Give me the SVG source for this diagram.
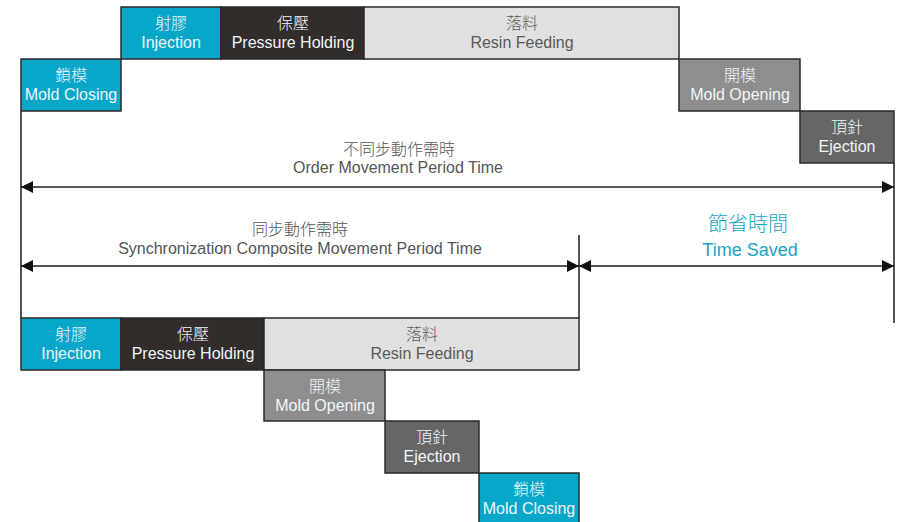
<svg xmlns="http://www.w3.org/2000/svg" width="898" height="522" viewBox="0 0 898 522">
<defs>
<style>
.box{stroke:#2a2a2a;stroke-width:1.5}
.cyan{fill:#08a6c9}
.dark{fill:#322c2a}
.light{fill:#e0e0e0}
.mid{fill:#8e8e8e}
.deep{fill:#666666}
text{font-family:"Liberation Sans","Noto Sans CJK TC",sans-serif;text-anchor:middle}
.zh{font-family:"Noto Sans CJK TC","Liberation Sans",sans-serif;font-size:16px;font-weight:300}
.en{font-size:16px}
.w{fill:#eef6f8}
.g{fill:#5a5a5a}
.lbl{fill:#555555}
.teal{fill:#1aa5c6}
.dim{stroke:#1e1e1e;stroke-width:1.5;fill:none}
.ext{stroke:#555555;stroke-width:2;fill:none}
</style>
<marker id="ah" viewBox="0 0 12 12" refX="12" refY="6" markerWidth="12" markerHeight="12" markerUnits="userSpaceOnUse" orient="auto-start-reverse">
<path d="M0,0 L12,6 L0,12 Z" fill="#111"/>
</marker>
</defs>

<g id="connectors">
<line class="ext" x1="21" y1="111" x2="21" y2="318"/>
<line class="ext" x1="894" y1="163" x2="894" y2="323"/>
<line class="ext" x1="579" y1="235" x2="579" y2="318"/>
<line class="dim" x1="21" y1="187" x2="894" y2="187" marker-start="url(#ah)" marker-end="url(#ah)"/>
<line class="dim" x1="21" y1="266" x2="579" y2="266" marker-start="url(#ah)" marker-end="url(#ah)"/>
<line class="dim" x1="579" y1="266" x2="894" y2="266" marker-start="url(#ah)" marker-end="url(#ah)"/>
</g>

<g id="label-order">
<text class="zh lbl" x="399" y="155">不同步動作需時</text>
<text class="en lbl" x="398" y="173">Order Movement Period Time</text>
</g>
<g id="label-sync">
<text class="zh lbl" x="300" y="235">同步動作需時</text>
<text class="en lbl" x="300" y="254">Synchronization Composite Movement Period Time</text>
</g>
<g id="label-saved">
<text class="zh teal" x="748" y="231" style="font-size:20px">節省時間</text>
<text class="teal" x="750" y="256" style="font-size:18px">Time Saved</text>
</g>

<!-- Top sequence -->
<g id="top-mold-closing">
<rect class="box cyan" x="21" y="59" width="100" height="52"/>
<text class="zh w" x="71" y="81">鎖模</text>
<text class="en w" x="71" y="100">Mold Closing</text>
</g>
<g id="top-injection">
<rect class="box cyan" x="121" y="7" width="100" height="52"/>
<text class="zh w" x="171" y="29">射膠</text>
<text class="en w" x="171" y="48">Injection</text>
</g>
<g id="top-pressure-holding">
<rect class="box dark" x="221" y="7" width="143" height="52"/>
<text class="zh w" x="293" y="29">保壓</text>
<text class="en w" x="293" y="48">Pressure Holding</text>
</g>
<g id="top-resin-feeding">
<rect class="box light" x="364" y="7" width="315" height="52"/>
<text class="zh g" x="522" y="29">落料</text>
<text class="en g" x="522" y="48">Resin Feeding</text>
</g>
<g id="top-mold-opening">
<rect class="box mid" x="679" y="59" width="121" height="52"/>
<text class="zh w" x="740" y="81">開模</text>
<text class="en w" x="740" y="100">Mold Opening</text>
</g>
<g id="top-ejection">
<rect class="box deep" x="800" y="111" width="94" height="52"/>
<text class="zh w" x="847" y="133">頂針</text>
<text class="en w" x="847" y="152">Ejection</text>
</g>

<!-- Bottom sequence -->
<g id="bot-injection">
<rect class="box cyan" x="21" y="318" width="100" height="52"/>
<text class="zh w" x="71" y="340">射膠</text>
<text class="en w" x="71" y="359">Injection</text>
</g>
<g id="bot-pressure-holding">
<rect class="box dark" x="121" y="318" width="143" height="52"/>
<text class="zh w" x="193" y="340">保壓</text>
<text class="en w" x="193" y="359">Pressure Holding</text>
</g>
<g id="bot-resin-feeding">
<rect class="box light" x="264" y="318" width="315" height="52"/>
<text class="zh g" x="422" y="340">落料</text>
<text class="en g" x="422" y="359">Resin Feeding</text>
</g>
<g id="bot-mold-opening">
<rect class="box mid" x="264" y="370" width="121" height="51"/>
<text class="zh w" x="325" y="392">開模</text>
<text class="en w" x="325" y="411">Mold Opening</text>
</g>
<g id="bot-ejection">
<rect class="box deep" x="385" y="421" width="94" height="52"/>
<text class="zh w" x="432" y="443">頂針</text>
<text class="en w" x="432" y="462">Ejection</text>
</g>
<g id="bot-mold-closing">
<rect class="box cyan" x="479" y="473" width="100" height="56"/>
<text class="zh w" x="529" y="495">鎖模</text>
<text class="en w" x="529" y="514">Mold Closing</text>
</g>
</svg>
